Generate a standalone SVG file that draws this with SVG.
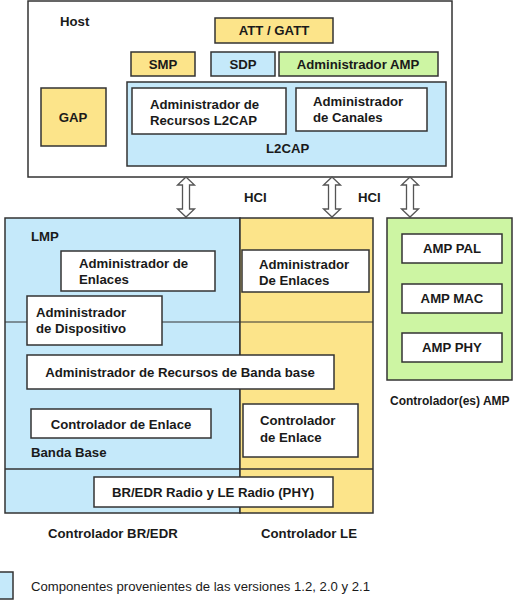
<svg xmlns="http://www.w3.org/2000/svg" width="519" height="606" viewBox="0 0 519 606">
<defs>
<style>
.b{stroke:#333;stroke-width:1.5}
.w{fill:#fff}
.bl{fill:#C5E9FA}
.ye{fill:#FCE48A}
.gr{fill:#CDF5A3}
text{font-family:"Liberation Sans",Arial,sans-serif;font-size:13.2px;font-weight:bold;fill:#1a1a1a}
.c{text-anchor:middle}
.n{font-weight:normal;font-size:12px}
.arr{fill:#fff;stroke:#555;stroke-width:1.3}
</style>
<path id="da" d="M0,0 L8.5,8 L3.5,8 L3.5,32 L8.5,32 L0,40 L-8.5,32 L-3.5,32 L-3.5,8 L-8.5,8 Z"/>
</defs>
<rect width="519" height="606" fill="#fff"/>
<g id="host">
<rect class="b w" x="28" y="1" width="424" height="176"/>
<text x="60" y="26">Host</text>
</g>
<g id="att-gatt"><rect class="b ye" x="215" y="18" width="118" height="25"/><text class="c" x="274" y="35">ATT / GATT</text></g>
<g id="smp"><rect class="b ye" x="131" y="52" width="64" height="24"/><text class="c" x="163" y="69">SMP</text></g>
<g id="sdp"><rect class="b bl" x="211" y="52" width="64" height="24"/><text class="c" x="243" y="69">SDP</text></g>
<g id="admin-amp"><rect class="b gr" x="279" y="52" width="159" height="24"/><text class="c" x="358" y="69">Administrador AMP</text></g>
<g id="gap"><rect class="b ye" x="41" y="88" width="65" height="58"/><text class="c" x="73" y="122">GAP</text></g>
<g id="l2cap">
<rect class="b bl" x="127" y="82" width="319" height="84"/>
<text x="266" y="153">L2CAP</text>
</g>
<g id="admin-recursos-l2cap"><rect class="b w" x="132" y="88" width="154" height="46"/><text x="150" y="109">Administrador de</text><text x="150" y="125">Recursos L2CAP</text></g>
<g id="admin-canales"><rect class="b w" x="296" y="88" width="131" height="43"/><text x="313" y="106">Administrador</text><text x="313" y="122">de Canales</text></g>

<g id="connectors">
<use href="#da" class="arr" x="186" y="177"/>
<use href="#da" class="arr" x="332" y="177"/>
<use href="#da" class="arr" x="410" y="177"/>
<text x="244" y="202">HCI</text>
<text x="358" y="202">HCI</text>
</g>

<g id="controlador-bredr">
<rect class="b bl" x="5" y="218" width="235" height="295"/>
<text x="31" y="241">LMP</text>
<text x="31" y="457">Banda Base</text>
</g>
<g id="controlador-le">
<rect class="b ye" x="240" y="218" width="133" height="295"/>
</g>
<g id="dividers">
<line x1="5" y1="322" x2="373" y2="322" stroke="#333" stroke-width="1"/>
<line x1="5" y1="469" x2="373" y2="469" stroke="#333" stroke-width="1.5"/>
</g>
<g id="admin-enlaces-bredr"><rect class="b w" x="61" y="251" width="154" height="40"/><text x="79" y="268">Administrador de</text><text x="79" y="284">Enlaces</text></g>
<g id="admin-dispositivo"><rect class="b w" x="27" y="296" width="135" height="49"/><text x="36" y="317">Administrador</text><text x="36" y="333">de Dispositivo</text></g>
<g id="admin-recursos-banda"><rect class="b w" x="27" y="355" width="307" height="34"/><text class="c" x="180" y="377">Administrador de Recursos de Banda base</text></g>
<g id="controlador-enlace-bredr"><rect class="b w" x="31" y="409" width="180" height="29"/><text class="c" x="121" y="429">Controlador de Enlace</text></g>
<g id="radio"><rect class="b w" x="94" y="477" width="239" height="30"/><text class="c" x="213" y="497">BR/EDR Radio y LE Radio (PHY)</text></g>
<g id="admin-enlaces-le"><rect class="b w" x="242" y="250" width="127" height="42"/><text x="259" y="269">Administrador</text><text x="259" y="285">De Enlaces</text></g>
<g id="controlador-enlace-le"><rect class="b w" x="243" y="404" width="115" height="53"/><text x="260" y="425">Controlador</text><text x="260" y="442">de Enlace</text></g>

<g id="amp">
<rect class="b gr" x="387" y="218" width="125" height="162"/>
</g>
<g id="amp-pal"><rect class="b w" x="402" y="234" width="100" height="29"/><text class="c" x="452" y="253">AMP PAL</text></g>
<g id="amp-mac"><rect class="b w" x="402" y="284" width="100" height="29"/><text class="c" x="452" y="303">AMP MAC</text></g>
<g id="amp-phy"><rect class="b w" x="402" y="333" width="100" height="29"/><text class="c" x="452" y="352">AMP PHY</text></g>

<text x="390" y="405" style="font-size:12px">Controlador(es) AMP</text>
<text x="48" y="538">Controlador BR/EDR</text>
<text x="261" y="538">Controlador LE</text>

<g id="legend">
<rect class="b bl" x="-1" y="572" width="14" height="27"/>
<text class="n" x="31" y="591" textLength="339" lengthAdjust="spacingAndGlyphs">Componentes provenientes de las versiones 1.2, 2.0 y 2.1</text>
</g>
</svg>
